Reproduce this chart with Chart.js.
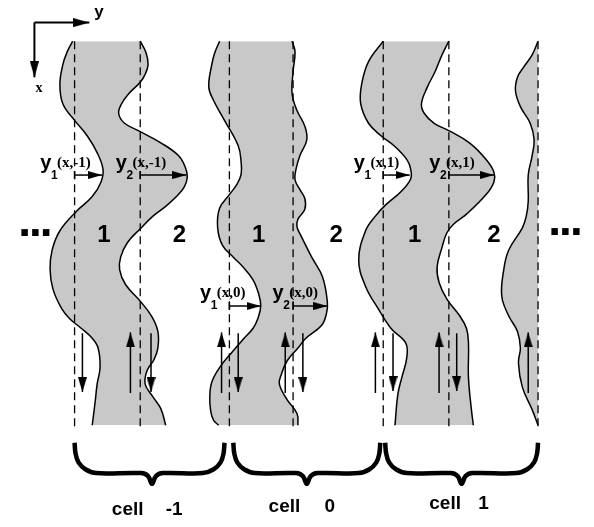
<!DOCTYPE html>
<html>
<head>
<meta charset="utf-8">
<script src="https://cdn.jsdelivr.net/npm/chart.js@4/dist/chart.umd.min.js"></script>
<style>
html,body{margin:0;padding:0;background:#fff;}
#wrap{width:594px;height:527px;}
</style>
</head>
<body>
<div id="wrap"><canvas id="c" width="594" height="527"></canvas></div>
<script>
// ---- Data: channel wall profiles, pairs of [x (downward), y (across)] ----
const cellM1Wall1 = [[36,68],[48,62],[60,58],[80,55],[100,58],[117,70],[133,83],[150,93],[167,99],[180,97],[195,88],[210,72],[230,55],[250,47],[270,45],[290,48],[310,57],[320,65],[330,77],[340,88],[350,94],[370,96],[387,93],[405,91],[429,88]];
const cellM1Wall2 = [[36,137],[48,143],[60,145],[70,142],[78,137],[90,125],[100,118],[110,115],[120,121],[128,136],[140,158],[153,176],[165,183],[175,185],[185,182],[195,174],[205,163],[215,150],[228,137],[242,124],[257,117],[270,116],[285,122],[302,137],[318,149],[333,155],[350,155],[362,151],[373,144],[387,142],[400,150],[412,158],[429,163]];
const cell0Wall1 = [[36,218],[48,213],[60,210],[83,207],[97,212],[117,223],[143,237],[160,240],[172,240],[182,236],[193,228],[207,218],[227,216],[245,221],[257,232],[266,241],[280,252],[295,258],[307,260],[320,257],[330,252],[340,243],[355,230],[370,218],[385,210],[400,208],[415,209],[424,212],[429,217]];
const cell0Wall2 = [[36,292],[47,295],[67,293],[90,292],[107,297],[123,305],[137,307],[153,300],[167,296],[178,295],[188,300],[197,305],[208,305],[218,298],[226,297],[235,301],[257,312],[277,323],[303,328],[315,327],[327,322],[340,306],[350,298],[363,287],[377,281],[387,279],[403,287],[417,297],[429,298]];
const cell1Wall1 = [[36,385],[57,370],[80,363],[100,362],[120,370],[133,383],[143,396],[157,409],[167,413],[177,413],[190,403],[203,388],[215,377],[230,367],[260,360],[287,367],[310,380],[330,393],[345,408],[360,409],[380,404],[397,400],[429,397]];
const cell1Wall2 = [[36,452],[50,445],[67,438],[83,430],[100,424],[110,427],[120,437],[128,453],[140,473],[157,490],[170,498],[180,498],[193,490],[213,470],[223,457],[232,450],[247,445],[267,440],[283,442],[300,450],[317,463],[330,470],[345,472],[380,472],[413,475],[429,477]];
const cell2Wall1 = [[36,543],[50,537],[63,528],[73,522],[87,520],[103,525],[120,535],[137,539],[153,537],[173,533],[200,533],[215,531],[227,527],[250,513],[270,508],[297,506],[317,513],[333,522],[350,525],[365,523],[390,527],[413,537],[429,543]];
const cell2Wall2 = [[36,543],[429,543]];

// dashed reference lines (across positions) and their extent (downward)
const refLinesY = [70,137,228,293,385,452,543];
const refTop = 36, refBottom = 430;

// displacement arrows y_i(x,n): [x (downward), y start, y end]
const displacementArrows = [[173,70,98],[173,137,184],[307,228,260],[307,293,328],[173,385,412],[173,452,498]];
// flow arrows: [y (across), x from, x to]
const flowArrows = [[78,335,395],[127,396,334],[148,335,395],[220,396,334],[237,335,395],[285,396,334],[303,335,395],[377,396,334],[395,335,394],[442,396,334],[460,335,394],[533,396,334]];

// cell braces: [left, right, tip]
const cellBraces = [[70,223,149],[232,382,307],[387,543,465]];
const cellNames = ['cell','cell','cell'];
const cellIndices = ['-1','0','1'];
const regionLabels = ['1','2','1','2','1','2'];
const wallLabels = [['y','1','(x,-1)'],['y','2','(x,-1)'],['y','1','(x,0)'],['y','2','(x,0)'],['y','1','(x,1)'],['y','2','(x,1)']];

// ---- helpers ----
const pts = arr => arr.map(([v,h]) => ({x:h, y:v}));
function headCanvas(len, wid) {
  const c = document.createElement('canvas');
  c.width = len*2; c.height = wid;
  const g = c.getContext('2d');
  g.fillStyle = '#000';
  g.beginPath(); g.moveTo(0,0); g.lineTo(len, wid/2); g.lineTo(0, wid); g.closePath(); g.fill();
  return c;
}
const headSmall = headCanvas(14, 8);
const headFlow = headCanvas(15, 9);
const headAxis = headCanvas(16, 9);

function bracePts(L, R, T) {
  return [[447,L],[458,L+1],[467,L+4],[474,L+11],[478,L+22],[478,T-11],[481,T-4],[489,T],[481,T+4],[478,T+11],[478,R-22],[474,R-11],[467,R-4],[458,R-1],[447,R]];
}

const GRAY = '#c8c8c8';
const datasets = [];

// axes indicator arrows
datasets.push({data:[{x:29,y:17},{x:85,y:17}], borderColor:'#000', borderWidth:2, tension:0,
  pointStyle:[false, headAxis], pointRotation:[0,0], pointRadius:[0,3]});
datasets.push({data:[{x:29,y:17},{x:29,y:73}], borderColor:'#000', borderWidth:2, tension:0,
  pointStyle:[false, headAxis], pointRotation:[0,90], pointRadius:[0,3]});

displacementArrows.forEach(([v,h0,h1]) => datasets.push({
  data:[{x:h0,y:v},{x:h1,y:v}], borderColor:'#000', borderWidth:1.5, tension:0,
  pointStyle:['line', headSmall], pointRotation:[90,0], pointRadius:[4,3],
  pointBorderColor:'#000', pointBorderWidth:1.5
}));

flowArrows.forEach(([h,v0,v1]) => datasets.push({
  data:[{x:h,y:v0},{x:h,y:v1}], borderColor:'#000', borderWidth:1.5, tension:0,
  pointStyle:[false, headFlow], pointRotation:[0, v1>v0 ? 90 : -90], pointRadius:[0,3]
}));

refLinesY.forEach(h => datasets.push({
  data:[{x:h,y:refTop},{x:h,y:refBottom}], borderColor:'#000', borderWidth:1.3, borderDash:[8,5], tension:0, pointRadius:0
}));

cellBraces.forEach(([L,R,T]) => datasets.push({
  data: pts(bracePts(L,R,T)), borderColor:'#000', borderWidth:4.5, tension:0.35, pointRadius:0,
  borderJoinStyle:'round', borderCapStyle:'butt'
}));

[[cellM1Wall1,cellM1Wall2,true],[cell0Wall1,cell0Wall2,true],[cell1Wall1,cell1Wall2,true],[cell2Wall1,cell2Wall2,false]].forEach(([w1,w2,showRight]) => {
  datasets.push({data: pts(w1), borderColor:'#000', borderWidth:1.5, tension:0.4, pointRadius:0,
    fill:'+1', backgroundColor:GRAY});
  datasets.push({data: pts(w2), borderColor: showRight ? '#000' : 'rgba(0,0,0,0)', borderWidth: showRight ? 1.5 : 0, tension:0.4, pointRadius:0, fill:false});
});

// ---- text annotations (positions in the same data frame) ----
const SANS = '"Liberation Sans", Arial, sans-serif';
const SERIF = '"Liberation Serif", "Times New Roman", serif';
const textItems = [];
textItems.push({text:'y', h:90, v:11, font:'bold 17px '+SANS});
textItems.push({text:'x', h:30, v:88, font:'bold 14px '+SERIF});
textItems.push({text:'...', h:29, v:235, font:'bold 46px '+SANS, align:'center', spacing:'-2px'});
textItems.push({text:'...', h:570, v:234, font:'bold 46px '+SANS, align:'center', spacing:'-2px'});
const regionPos = [[100,242],[177,242],[258,242],[337,242],[417,242],[498,242]];
regionLabels.forEach((t,i) => textItems.push({text:t, h:regionPos[i][0], v:regionPos[i][1], font:'bold 24px '+SANS, align:'center'}));
const wallPos = [[35,167],[112,167],[198,300],[272,300],[355,167],[432,167]];
wallLabels.forEach(([a,b,c],i) => {
  const [h,v] = wallPos[i];
  textItems.push({text:a, h:h, v:v, font:'bold 20px '+SANS});
  textItems.push({text:b, h:h+11, v:v+10, font:'bold 12px '+SANS});
  textItems.push({text:c, h:h+17, v:v-2, font:'bold 15px '+SERIF});
});
const cellNamePos = [[108,521],[268,518],[432,515]];
const cellIdxPos = [[163,521],[325,518],[482,515]];
cellNames.forEach((t,i) => textItems.push({text:t, h:cellNamePos[i][0], v:cellNamePos[i][1], font:'bold 19px '+SANS}));
cellIndices.forEach((t,i) => textItems.push({text:t, h:cellIdxPos[i][0], v:cellIdxPos[i][1], font:'bold 19px '+SANS}));

const labelPlugin = {
  id: 'diagramText',
  afterDatasetsDraw(chart) {
    const {ctx} = chart; const sx = chart.scales.x, sy = chart.scales.y;
    ctx.save();
    ctx.fillStyle = '#000';
    ctx.textBaseline = 'alphabetic';
    for (const L of textItems) {
      ctx.font = L.font;
      ctx.textAlign = L.align || 'left';
      if ('letterSpacing' in ctx) ctx.letterSpacing = L.spacing || '0px';
      ctx.fillText(L.text, sx.getPixelForValue(L.h), sy.getPixelForValue(L.v));
    }
    ctx.restore();
  }
};

new Chart(document.getElementById('c'), {
  type: 'line',
  data: { datasets },
  options: {
    responsive: false,
    animation: false,
    events: [],
    indexAxis: 'y',
    layout: { padding: 0 },
    scales: {
      x: { type: 'linear', min: 0, max: 594, display: false },
      y: { type: 'linear', min: 0, max: 527, reverse: true, display: false }
    },
    plugins: {
      legend: { display: false },
      tooltip: { enabled: false },
      filler: { drawTime: 'beforeDatasetsDraw', propagate: false }
    }
  },
  plugins: [labelPlugin]
});
</script>
</body>
</html>
